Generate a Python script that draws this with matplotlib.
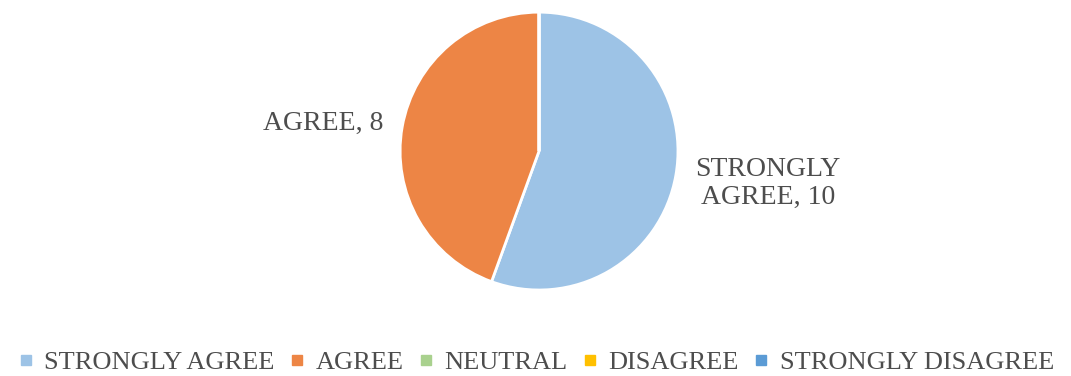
import matplotlib.pyplot as plt
from matplotlib.lines import Line2D

categories = ['STRONGLY AGREE', 'AGREE', 'NEUTRAL', 'DISAGREE', 'STRONGLY DISAGREE']
values = [10, 8, 0, 0, 0]
colors = ['#9DC3E6', '#ED8545', '#A9D18E', '#FFC000', '#5B9BD5']
slice_labels = ['STRONGLY\nAGREE, 10', 'AGREE, 8', '', '', '']

plt.rcParams['font.family'] = ['Liberation Serif', 'DejaVu Serif']
text_color = '#4d4d4d'

fig = plt.figure(figsize=(10.71, 3.76), dpi=100)
ax = fig.add_axes([0.3735, 0.2287, 0.2596, 0.739])

wedges, texts = ax.pie(values, colors=colors, startangle=90, counterclock=False,
                       labels=slice_labels, labeldistance=1.14,
                       wedgeprops=dict(edgecolor='white', linewidth=2),
                       textprops=dict(fontsize=20, color=text_color))
for t in texts:
    t.set_multialignment('center')
# two-line label sits a bit lower and looser in the original
x0, y0 = texts[0].get_position()
texts[0].set_position((x0, y0 - 0.035))
texts[0].set_linespacing(1.2)
ax.set_xlim(-1, 1)
ax.set_ylim(-1, 1)
ax.set_aspect('equal')

handles = [Line2D([0], [0], marker='s', linestyle='none', markersize=7,
                  markerfacecolor=c, markeredgecolor=c) for c in colors]
fig.legend(handles, categories, loc='center', bbox_to_anchor=(0.5, 14 / 376),
           ncol=5, frameon=False, fontsize=19, handlelength=0.7,
           handletextpad=0.35, columnspacing=0.5, labelcolor=text_color)

fig.savefig('out.png', dpi=100)
